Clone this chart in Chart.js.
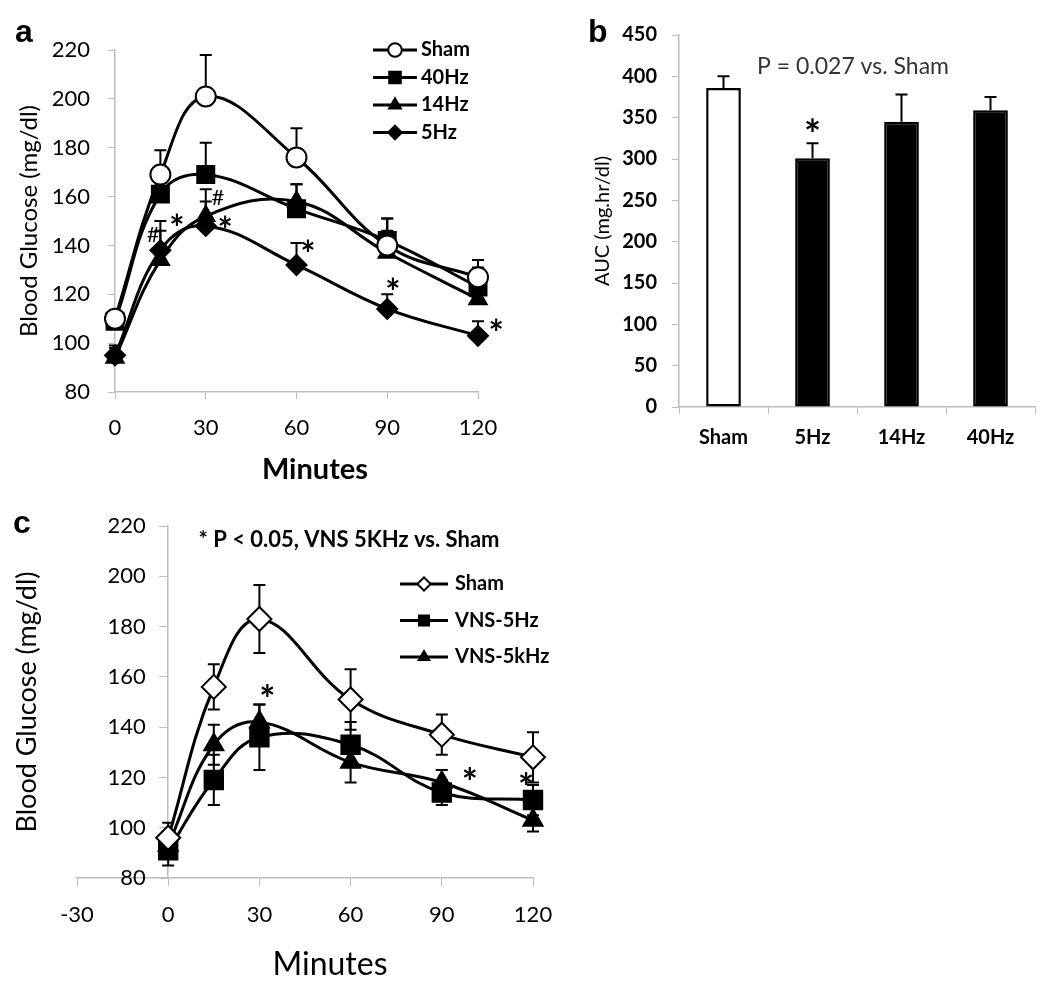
<!DOCTYPE html>
<html lang="en">
<head>
<meta charset="UTF-8">
<title>Blood glucose after VNS</title>
<script src="https://cdn.jsdelivr.net/npm/chart.js"></script>
<style>
    body {
        margin: 0;
        background: #ffffff;
        width: 1050px;
        height: 988px;
        position: relative;
        overflow: hidden;
    }
    canvas {
        position: absolute;
    }
    #chartA { left: 0; top: 0; }
    #chartB { left: 560px; top: 0; }
    #chartC { left: 0; top: 500px; }
</style>
</head>
<body>
<canvas id="chartA" width="520" height="490"></canvas>
<canvas id="chartB" width="490" height="490"></canvas>
<canvas id="chartC" width="600" height="488"></canvas>

<script>
// sampling times (min)
const minutes = [0, 15, 30, 60, 90, 120];

// panel a - glucose tolerance, mean and +SEM
const shamA = [110, 169, 201, 176, 140, 127];
const hz40A = [109, 161, 169, 155, 142, 123];
const hz14A = [94, 134, 152, 158, 137, 118];
const hz5A = [95, 138, 148, 132, 114, 103];
const shamAErr = [3, 10, 17, 12, 11, 7];
const hz40AErr = [3, 8, 13, 10, 9, 8];
const hz14AErr = [4, 12, 11, 7, 9, 5];
const hz5AErr = [4, 12, 10, 9, 6, 6];

// panel b - area under curve
const aucGroups = ['Sham', '5Hz', '14Hz', '40Hz'];
const aucMean = [386, 301, 345, 359];
const aucErr = [14, 18, 33, 16];

// panel c - VNS 5Hz vs 5kHz, mean +/- SEM
const shamC = [96, 156, 183, 151, 137, 128];
const vns5HzC = [91, 119, 136, 133, 114, 111];
const vns5kHzC = [93, 133, 142, 126, 118, 103];
const shamCErr = [6, 9, 13.5, 12, 8, 10];
const vns5HzCErr = [6, 10, 13, 9, 5, 6];
const vns5kHzCErr = [5, 8, 7, 8, 5, 4.5];

const GRAY = '#bdbdbd';
Chart.defaults.font.family = 'Lato, "Open Sans", sans-serif';
Chart.defaults.color = '#000';

// error bars drawn from errUp / errDown on each dataset
function drawErrors(chart, opts) {
    const ctx = chart.ctx;
    const ys = chart.scales.y;
    const cap = opts.cap || 6;
    ctx.save();
    ctx.strokeStyle = '#000';
    ctx.lineWidth = opts.width || 2;
    chart.data.datasets.forEach((ds, i) => {
        if (!ds.errUp) return;
        chart.getDatasetMeta(i).data.forEach((el, j) => {
            const d = ds.data[j];
            const v = typeof d === 'object' ? d.y : d;
            const x = el.x;
            const top = ys.getPixelForValue(v + ds.errUp[j]);
            const bot = ys.getPixelForValue(v - (ds.errDown ? ds.errDown[j] : 0));
            ctx.beginPath();
            ctx.moveTo(x, bot);
            ctx.lineTo(x, top);
            ctx.moveTo(x - cap, top);
            ctx.lineTo(x + cap, top);
            if (ds.errDown) {
                ctx.moveTo(x - cap, bot);
                ctx.lineTo(x + cap, bot);
            }
            ctx.stroke();
        });
    });
    ctx.restore();
}

const errorBars = {
    id: 'errorBars',
    beforeDatasetsDraw(chart, args, opts) { if (opts.under) drawErrors(chart, opts); },
    afterDatasetsDraw(chart, args, opts) { if (!opts.under) drawErrors(chart, opts); }
};

// free text: data coords (x, y) or canvas pixels (px, py)
const notes = {
    id: 'notes',
    afterDraw(chart, args, opts) {
        const ctx = chart.ctx;
        (opts.items || []).forEach(n => {
            const x = n.px !== undefined ? n.px : chart.scales.x.getPixelForValue(n.x);
            const y = n.py !== undefined ? n.py : chart.scales.y.getPixelForValue(n.y);
            ctx.save();
            ctx.font = n.font || opts.font;
            ctx.fillStyle = n.color || '#000';
            ctx.textAlign = n.align || 'center';
            ctx.textBaseline = n.baseline || 'middle';
            ctx.translate(x, y + (n.dy !== undefined ? n.dy : (opts.dy || 0)));
            if (n.rotate) ctx.rotate(n.rotate);
            ctx.fillText(n.text, 0, 0);
            ctx.restore();
        });
    }
};

// Excel style legend: line with a smaller marker in the middle
const lineLegend = {
    id: 'lineLegend',
    afterDraw(chart, args, opts) {
        const ctx = chart.ctx;
        chart.data.datasets.forEach((ds, i) => {
            const y = opts.y + i * opts.gap;
            ctx.save();
            ctx.strokeStyle = ds.borderColor;
            ctx.lineWidth = ds.borderWidth;
            ctx.beginPath();
            ctx.moveTo(opts.x, y);
            ctx.lineTo(opts.x + opts.len, y);
            ctx.stroke();
            ctx.fillStyle = ds.pointBackgroundColor;
            ctx.strokeStyle = ds.pointBorderColor;
            ctx.lineWidth = ds.pointBorderWidth;
            Chart.helpers.drawPoint(ctx, {
                pointStyle: ds.pointStyle,
                radius: ds.pointRadius * opts.scale,
                borderWidth: ds.pointBorderWidth,
                rotation: 0
            }, opts.x + opts.len / 2, y);
            ctx.fillStyle = '#000';
            ctx.font = opts.font;
            ctx.textAlign = 'left';
            ctx.textBaseline = 'middle';
            ctx.fillText(ds.label, opts.x + opts.len + opts.gapText, y);
            ctx.restore();
        });
    }
};

function series(label, ys, up, down, style, radius, fill) {
    return {
        label: label,
        data: minutes.map((m, i) => ({ x: m, y: ys[i] })),
        errUp: up,
        errDown: down,
        borderColor: '#000',
        borderWidth: 3,
        pointStyle: style,
        pointRadius: radius,
        pointBorderWidth: 2,
        pointBackgroundColor: fill,
        pointBorderColor: '#000',
        tension: 0.4,
        clip: false
    };
}

// ---------- panel a ----------
new Chart(document.getElementById('chartA'), {
    type: 'line',
    data: {
        datasets: [
            series('Sham', shamA, shamAErr, null, 'circle', 10, '#fff'),
            series('40Hz', hz40A, hz40AErr, null, 'rect', 12, '#000'),
            series('14Hz', hz14A, hz14AErr, null, 'triangle', 10, '#000'),
            series('5Hz', hz5A, hz5AErr, null, 'rectRot', 10, '#000')
        ]
    },
    options: {
        responsive: false,
        animation: false,
        layout: { padding: { top: 50, right: 42, left: 0, bottom: 0 } },
        plugins: {
            legend: { display: false },
            tooltip: { enabled: false },
            errorBars: { under: true, cap: 6 },
            lineLegend: { x: 373, y: 50, gap: 27.5, len: 44, gapText: 4, scale: 0.68, font: 'bold 20px Lato' },
            notes: {
                font: 'bold 36px Lato',
                dy: 10,
                items: [
                    { x: 20.5, y: 150.5, text: '*' },
                    { x: 36.4, y: 149.7, text: '*' },
                    { x: 63.8, y: 140, text: '*' },
                    { x: 91.9, y: 124.6, text: '*' },
                    { x: 126, y: 107.5, text: '*' },
                    { x: 34, y: 159.5, text: '#', font: '22px Lato', dy: 0 },
                    { x: 12.6, y: 144.3, text: '#', font: '22px Lato', dy: 0 },
                    { px: 315, py: 470, text: 'Minutes', font: 'bold 29px Lato', dy: 0 },
                    { px: 15, py: 42, text: 'a', align: 'left', baseline: 'alphabetic', font: 'bold 32px "Liberation Sans"', dy: 0 }
                ]
            }
        },
        scales: {
            x: {
                type: 'linear',
                min: 0,
                max: 120,
                ticks: { stepSize: 30, padding: 16, font: { size: 22 } },
                grid: { drawOnChartArea: false, tickLength: 7, tickColor: GRAY },
                border: { color: GRAY, width: 1.5 },
                afterFit(scale) { scale.height = 98; }
            },
            y: {
                min: 80,
                max: 220,
                ticks: { stepSize: 20, padding: 18, font: { size: 22 } },
                grid: { drawOnChartArea: false, tickLength: 7, tickColor: GRAY },
                border: { color: GRAY, width: 1.5 },
                title: { display: true, text: 'Blood Glucose (mg/dl)', font: { size: 24 }, padding: { top: 15, bottom: 0 } },
                afterFit(scale) { scale.width = 115; }
            }
        }
    },
    plugins: [errorBars, notes, lineLegend]
});

// ---------- panel b ----------
new Chart(document.getElementById('chartB'), {
    type: 'bar',
    data: {
        labels: aucGroups,
        datasets: [{
            data: aucMean,
            errUp: aucErr,
            backgroundColor: ['#fff', '#000', '#000', '#000'],
            borderColor: '#000',
            borderWidth: 2.5,
            borderSkipped: false,
            barPercentage: 0.39,
            categoryPercentage: 1
        }]
    },
    options: {
        responsive: false,
        animation: false,
        layout: { padding: { top: 35, right: 15, left: 0, bottom: 0 } },
        plugins: {
            legend: { display: false },
            tooltip: { enabled: false },
            errorBars: { under: false, cap: 6 },
            notes: {
                font: '23px Lato',
                items: [
                    { x: 1, y: 341, text: '*', font: 'bold 40px Lato', dy: 11 },
                    { px: 293, py: 67, text: 'P = 0.027 vs. Sham', color: '#333' },
                    { px: 28, py: 42, text: 'b', align: 'left', baseline: 'alphabetic', font: 'bold 32px "Liberation Sans"' }
                ]
            }
        },
        scales: {
            x: {
                ticks: { padding: 12, font: { size: 20, weight: 'bold' } },
                grid: { drawOnChartArea: false, tickLength: 7, tickColor: GRAY, offset: true },
                border: { color: GRAY, width: 1.5 },
                afterFit(scale) { scale.height = 83; }
            },
            y: {
                min: 0,
                max: 450,
                ticks: { stepSize: 50, padding: 15, font: { size: 20, weight: 'bold' } },
                grid: { drawOnChartArea: false, tickLength: 7, tickColor: GRAY },
                border: { color: GRAY, width: 1.5 },
                title: { display: true, text: 'AUC (mg.hr/dl)', font: { size: 20 }, padding: { top: 31, bottom: 0 } },
                afterFit(scale) { scale.width = 119; }
            }
        }
    },
    plugins: [errorBars, notes]
});

// ---------- panel c ----------
new Chart(document.getElementById('chartC'), {
    type: 'line',
    data: {
        datasets: [
            series('Sham', shamC, shamCErr, shamCErr, 'rectRot', 12, '#fff'),
            series('VNS-5Hz', vns5HzC, vns5HzCErr, vns5HzCErr, 'rect', 13, '#000'),
            series('VNS-5kHz', vns5kHzC, vns5kHzCErr, vns5kHzCErr, 'triangle', 11, '#000')
        ]
    },
    options: {
        responsive: false,
        animation: false,
        layout: { padding: { top: 26, right: 67, left: 77, bottom: 0 } },
        plugins: {
            legend: { display: false },
            tooltip: { enabled: false },
            errorBars: { under: true, cap: 6 },
            lineLegend: { x: 400, y: 84, gap: 36.5, len: 48, gapText: 7, scale: 0.55, font: 'bold 20px Lato' },
            notes: {
                font: 'bold 38px Lato',
                dy: 11,
                items: [
                    { x: 32.6, y: 154.8, text: '*' },
                    { x: 99.2, y: 121.8, text: '*' },
                    { x: 117.7, y: 119.8, text: '*' },
                    { px: 349, py: 40, text: '* P < 0.05, VNS 5KHz vs. Sham', font: 'bold 22px Lato', dy: 0 },
                    { px: 330, py: 465, text: 'Minutes', font: '32px Lato', dy: 0 },
                    { px: 27, py: 202, text: 'Blood Glucose (mg/dl)', font: '27px Lato', rotate: -Math.PI / 2, dy: 0 },
                    { px: 13, py: 33, text: 'c', align: 'left', baseline: 'alphabetic', font: 'bold 32px "Liberation Sans"', dy: 0 }
                ]
            }
        },
        scales: {
            x: {
                type: 'linear',
                min: -30,
                max: 120,
                ticks: { stepSize: 30, padding: 16, font: { size: 22 } },
                grid: { drawOnChartArea: false, tickLength: 8, tickColor: GRAY },
                border: { color: GRAY, width: 1.5 },
                afterFit(scale) { scale.height = 110; }
            },
            y: {
                position: { x: 0 },
                min: 80,
                max: 220,
                ticks: { stepSize: 20, font: { size: 22 }, callback: v => v + '    ' },
                grid: { drawOnChartArea: false, tickLength: 8, tickColor: GRAY },
                border: { color: GRAY, width: 1.5 }
            }
        }
    },
    plugins: [errorBars, notes, lineLegend]
});
</script>
</body>
</html>
